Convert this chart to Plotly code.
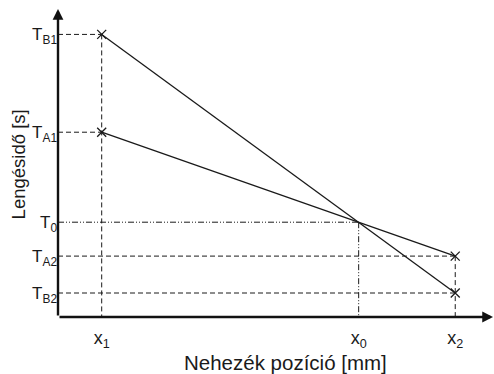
import plotly.graph_objects as go

# Positions (arbitrary units)
x_names = ["x<sub>1</sub>", "x<sub>0</sub>", "x<sub>2</sub>"]
x_vals = [1.0, 6.88, 9.09]          # x1, x0, x2
x1, x0, x2 = x_vals

y_names = ["T<sub>B2</sub>", "T<sub>A2</sub>", "T<sub>0</sub>", "T<sub>A1</sub>", "T<sub>B1</sub>"]
y_vals = [0.80, 2.03, 3.16, 6.16, 9.42]
TB2, TA2, T0, TA1, TB1 = y_vals

line_a_x = [x1, x2]
line_a_y = [TA1, TA2]
line_b_x = [x1, x2]
line_b_y = [TB1, TB2]

x_axis_end = 9.955
y_axis_end = 10.27
x_range = [0, 9.977]
y_range = [0, 10.567]

FONT = "Liberation Sans, Arial, sans-serif"

fig = go.Figure()
for xs, ys in [(line_b_x, line_b_y), (line_a_x, line_a_y)]:
    fig.add_trace(go.Scatter(
        x=xs, y=ys, mode="lines+markers",
        line=dict(color="#1a1a1a", width=1.3),
        marker=dict(symbol="x-thin", size=9, line=dict(color="#1a1a1a", width=1.3)),
        showlegend=False, hoverinfo="skip", cliponaxis=False))

dash = "5px,3px"
dashdot = "6px,2px,1px,2px,1px,2px"
shapes = []
def seg(xa, ya, xb, yb, d):
    shapes.append(dict(type="line", xref="x", yref="y", x0=xa, y0=ya, x1=xb, y1=yb,
                       line=dict(color="#1a1a1a", width=1, dash=d), layer="below"))

seg(0, TB1, x1, TB1, dash)
seg(0, TA1, x1, TA1, dash)
seg(x1, TB1, x1, 0, dash)
seg(0, TA2, x2, TA2, dash)
seg(0, TB2, x2, TB2, dash)
seg(x2, TA2, x2, 0, dash)
seg(0, T0, x0, T0, dashdot)
seg(x0, T0, x0, 0, dashdot)

annotations = [
    dict(x=0, y=y_axis_end, ax=0, ay=0, xref="x", yref="y", axref="x", ayref="y",
         text="", showarrow=True, arrowhead=2, arrowsize=0.9, arrowwidth=2.4,
         arrowcolor="#111", standoff=0, startstandoff=0),
    dict(x=x_axis_end, y=0, ax=0, ay=0, xref="x", yref="y", axref="x", ayref="y",
         text="", showarrow=True, arrowhead=2, arrowsize=0.9, arrowwidth=2.4,
         arrowcolor="#111", standoff=0, startstandoff=0),
    dict(x=0.5218, y=-0.142, xref="paper", yref="paper", text="Nehezék pozíció [mm]",
         showarrow=False, xanchor="center", yanchor="middle",
         font=dict(family=FONT, size=20.5, color="#1a1a1a")),
    dict(x=-0.0905, y=0.48, xref="paper", yref="paper", text="Lengésidő [s]",
         showarrow=False, xanchor="center", yanchor="middle", textangle=-90,
         font=dict(family=FONT, size=18.5, color="#1a1a1a")),
]

fig.update_layout(
    width=494, height=374,
    margin=dict(l=58, r=0, t=0, b=57),
    paper_bgcolor="white", plot_bgcolor="white",
    shapes=shapes, annotations=annotations,
    font=dict(family=FONT, color="#1a1a1a"),
    xaxis=dict(range=x_range, tickvals=x_vals, ticktext=x_names, showgrid=False,
               zeroline=False, showline=False, ticks="", tickfont=dict(size=18),
               ticklabelstandoff=8),
    yaxis=dict(range=y_range, tickvals=y_vals, ticktext=y_names, showgrid=False,
               zeroline=False, showline=False, ticks="", tickfont=dict(size=17),
               ticklabelstandoff=0),
)

fig.write_html("out.html")
